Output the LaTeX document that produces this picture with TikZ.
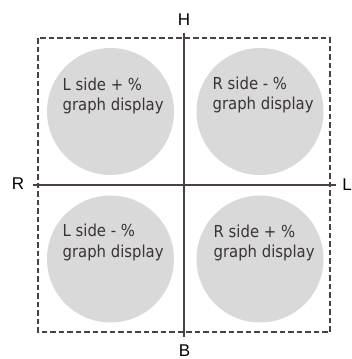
\documentclass[tikz,border=0pt]{standalone}
\usepackage{fontspec}
\setmainfont{Liberation Sans}
\newfontfamily\circfont{DejaVu Sans Condensed}
\definecolor{circfill}{HTML}{D9D9D9}
\definecolor{linecol}{HTML}{4A4242}
\definecolor{txtcol}{HTML}{3A3333}
\begin{document}
\begin{tikzpicture}[x=1pt,y=-1pt,
  axisline/.style={draw=linecol,line width=1.2pt},
  boxline/.style={draw=linecol,line width=1.1pt,dash pattern=on 5.5pt off 3pt},
  quad/.style={circle,fill=circfill,minimum size=127pt,inner sep=0pt},
  qtext/.style={anchor=base west,inner sep=0pt,font=\circfont\fontsize{16.5}{20.5}\selectfont,text=txtcol,align=left},
  axlabel/.style={font=\fontsize{17}{17}\selectfont,text=black,inner sep=0pt}]
\useasboundingbox (0,0) rectangle (351,359);
% dashed frame
\draw[boxline] (38,38) rectangle (330,332);
% circles
\node[quad] (tl) at (110.5,111.5) {};
\node[quad] (tr) at (260,111.5) {};
\node[quad] (bl) at (110.5,259) {};
\node[quad] (br) at (260,259) {};
% texts
\node[qtext] (tlt) at (62.5,110.5) {L side + \%\\graph display};
\node[qtext] (trt) at (212.5,109.5) {R side - \%\\graph display};
\node[qtext] (blt) at (62.5,257) {L side - \%\\graph display};
\node[qtext] (brt) at (213.5,257.5) {R side + \%\\graph display};
% axis ends
\coordinate (top) at (184,33);
\coordinate (bot) at (184,337);
\coordinate (lft) at (33,185);
\coordinate (rgt) at (336,185);
\draw[axisline] (top) -- (bot);
\draw[axisline] (lft) -- (rgt);
% labels
\node[axlabel] (H) at (184,20) {H};
\node[axlabel] (R) at (18,183.5) {R};
\node[axlabel] (L) at (347,184.5) {L};
\node[axlabel] (B) at (184.5,351) {B};
\end{tikzpicture}
\end{document}
